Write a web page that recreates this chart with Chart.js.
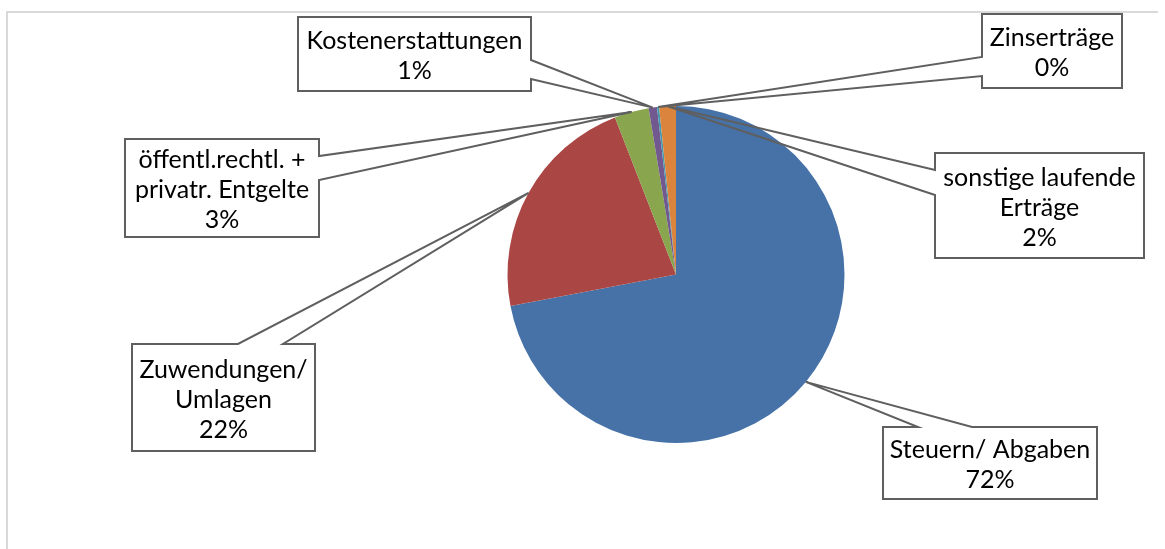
<!DOCTYPE html>
<html><head><meta charset="utf-8">
<script src="https://cdn.jsdelivr.net/npm/chart.js@4/dist/chart.umd.min.js"></script>
<style>html,body{margin:0;padding:0;background:#fff;overflow:hidden}#wrap{position:absolute;left:0;top:0;width:1165px;height:549px}</style>
</head><body><div id="wrap"><canvas id="c" width="1165" height="549"></canvas></div>
<script>
const categories = ['Steuern/ Abgaben','Zuwendungen/ Umlagen','öffentl.rechtl. + privatr. Entgelte','Kostenerstattungen','Zinserträge','sonstige laufende Erträge'];
const labelLines = [['Steuern/ Abgaben'],['Zuwendungen/','Umlagen'],['öffentl.rechtl. +','privatr. Entgelte'],['Kostenerstattungen'],['Zinserträge'],['sonstige laufende','Erträge']];
const values = [72.0, 22.1, 3.3, 0.8, 0.2, 1.6];
const colors = ['#4672A8','#AA4744','#89A54E','#71588F','#4198AF','#DB843D'];

// callout box layout (position of each label box and where its pointer leaves the box)
const boxes = [
  {x:883, y:427, w:214, h:72, side:'top',   a:918, b:972},
  {x:132, y:344, w:183, h:107, side:'top',  a:238, b:283},
  {x:125, y:139, w:194, h:98, side:'right', a:156, b:180},
  {x:298, y:17,  w:233, h:74, side:'right', a:60,  b:79},
  {x:982, y:14,  w:140, h:74, side:'left',  a:57,  b:76},
  {x:935, y:153, w:209, h:105, side:'left', a:170, b:195}
];
const FONT = '25px Lato';
const LINE_H = 30;

const framePlugin = {
  id:'frame',
  beforeDraw(chart){
    const ctx = chart.ctx;
    ctx.save();
    ctx.strokeStyle = '#d9d9d9';
    ctx.lineWidth = 2;
    ctx.beginPath();
    ctx.moveTo(7, 600); ctx.lineTo(7, 12); ctx.lineTo(1158, 12);
    ctx.stroke();
    ctx.restore();
  }
};

const calloutPlugin = {
  id:'callouts',
  afterDatasetsDraw(chart){
    const ctx = chart.ctx;
    const meta = chart.getDatasetMeta(0);
    const total = values.reduce((s,v)=>s+v,0);
    ctx.save();
    meta.data.forEach((arc, i) => {
      const p = arc.getProps(['x','y','startAngle','endAngle','outerRadius'], true);
      const mid = (p.startAngle + p.endAngle) / 2;
      const ax = p.x + Math.cos(mid) * p.outerRadius;
      const ay = p.y + Math.sin(mid) * p.outerRadius;
      const b = boxes[i];
      ctx.fillStyle = '#ffffff';
      ctx.fillRect(b.x, b.y, b.w, b.h);
      ctx.beginPath();
      const R = b.x + b.w, B = b.y + b.h;
      if (b.side === 'top') {
        ctx.moveTo(b.x, b.y); ctx.lineTo(b.a, b.y); ctx.lineTo(ax, ay); ctx.lineTo(b.b, b.y);
        ctx.lineTo(R, b.y); ctx.lineTo(R, B); ctx.lineTo(b.x, B); ctx.closePath();
      } else if (b.side === 'right') {
        ctx.moveTo(b.x, b.y); ctx.lineTo(R, b.y); ctx.lineTo(R, b.a); ctx.lineTo(ax, ay); ctx.lineTo(R, b.b);
        ctx.lineTo(R, B); ctx.lineTo(b.x, B); ctx.closePath();
      } else {
        ctx.moveTo(b.x, b.y); ctx.lineTo(R, b.y); ctx.lineTo(R, B); ctx.lineTo(b.x, B);
        ctx.lineTo(b.x, b.b); ctx.lineTo(ax, ay); ctx.lineTo(b.x, b.a); ctx.closePath();
      }
      ctx.strokeStyle = '#5f5f5f';
      ctx.lineWidth = 2;
      ctx.lineJoin = 'miter';
      ctx.stroke();
      const lines = labelLines[i].concat([Math.round(values[i] / total * 100) + '%']);
      ctx.fillStyle = '#000000';
      ctx.font = FONT;
      ctx.textAlign = 'center';
      ctx.textBaseline = 'middle';
      const cx = b.x + b.w / 2;
      const cy = b.y + b.h / 2 + 2;
      lines.forEach((t, k) => {
        ctx.fillText(t, cx, cy + (k - (lines.length - 1) / 2) * LINE_H);
      });
    });
    ctx.restore();
  }
};

new Chart(document.getElementById('c'), {
  type: 'pie',
  data: {
    labels: categories,
    datasets: [{ data: values, backgroundColor: colors, borderWidth: 0 }]
  },
  options: {
    responsive: false,
    animation: false,
    layout: { padding: { left: 187, right: 0, top: 106, bottom: 106 } },
    plugins: { legend: { display: false }, tooltip: { enabled: false } }
  },
  plugins: [framePlugin, calloutPlugin]
});
</script>
</body></html>
